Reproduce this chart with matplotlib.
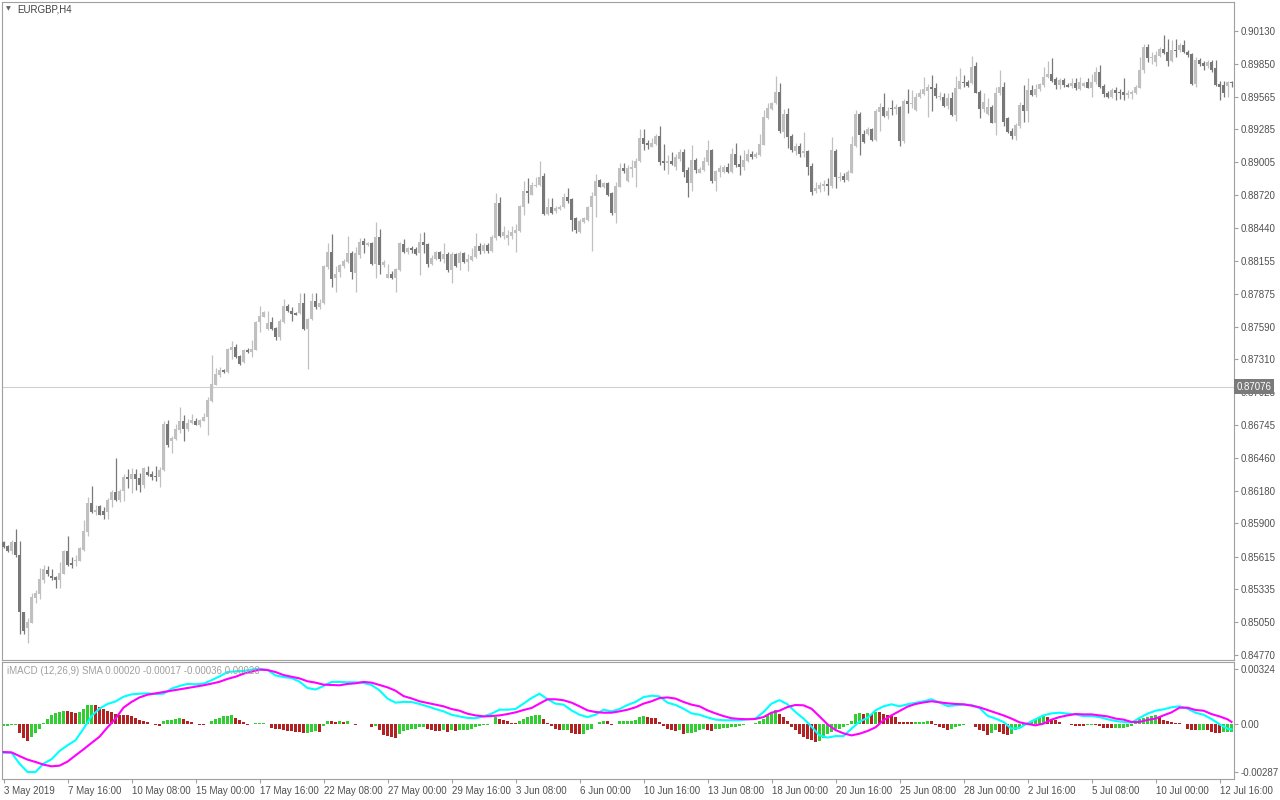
import numpy as np
import matplotlib
matplotlib.use("Agg")
import matplotlib.pyplot as plt

# ======================================================
# Data: EURGBP H4, 3 May 2019 - 12 Jul 2019
# prices in points (1e-5)
# ======================================================

open_pts = [
    85738, 85708, 85665, 85738, 85629, 85136, 85002, 85047, 85262, 85296,
    85414, 85500, 85448, 85440, 85414, 85468, 85663, 85562, 85580, 85580,
    85672, 85829, 86075, 86001, 86049, 86009, 85998, 86101, 86170, 86101,
    86181, 86299, 86281, 86324, 86293, 86232, 86344, 86324, 86305, 86299,
    86361, 86754, 86610, 86622, 86702, 86780, 86713, 86765, 86780, 86748,
    86782, 86811, 86954, 87091, 87177, 87218, 87200, 87392, 87415, 87338,
    87289, 87390, 87372, 87392, 87627, 87676, 87573, 87633, 87576, 87504,
    87633, 87768, 87725, 87710, 87705, 87791, 87573, 87653, 87810, 87761,
    87793, 88105, 88234, 88008, 88062, 88114, 88148, 88225, 88054, 88206,
    88326, 88291, 88311, 88128, 88358, 88120, 88011, 88042, 88011, 88077,
    88300, 88234, 88268, 88257, 88220, 88317, 88303, 88128, 88169, 88234,
    88171, 88214, 88077, 88214, 88134, 88225, 88148, 88163, 88186, 88283,
    88243, 88291, 88243, 88352, 88655, 88369, 88349, 88369, 88397, 88414,
    88620, 88758, 88724, 88798, 88804, 88884, 88558, 88620, 88583, 88598,
    88615, 88706, 88684, 88521, 88406, 88492, 88506, 88615, 88712, 88850,
    88787, 88827, 88736, 88569, 88792, 88950, 88844, 88947, 88953, 89016,
    89211, 89170, 89136, 89159, 89230, 89016, 88998, 89016, 88964, 89028,
    89093, 88936, 88827, 89022, 88912, 88936, 89007, 89108, 88844, 88921,
    88921, 88964, 88921, 89073, 88987, 88964, 89016, 89073, 89045, 89062,
    89153, 89380, 89457, 89509, 89606, 89265, 89417, 89228, 89101, 89142,
    89084, 89101, 88970, 88758, 88773, 88798, 88815, 88798, 89101, 88864,
    88884, 88850, 88912, 89142, 89417, 89245, 89245, 89285, 89193, 89437,
    89479, 89400, 89466, 89457, 89479, 89187, 89531, 89503, 89451, 89560,
    89589, 89617, 89651, 89637, 89560, 89560, 89485, 89552, 89408, 89634,
    89692, 89692, 89680, 89829, 89606, 89457, 89417, 89479, 89342, 89595,
    89651, 89380, 89273, 89228, 89314, 89494, 89445, 89623, 89580, 89629,
    89663, 89732, 89760, 89715, 89663, 89709, 89668, 89657, 89686, 89629,
    89657, 89689, 89643, 89689, 89780, 89660, 89595, 89565, 89623, 89608,
    89608, 89580, 89591, 89597, 89643, 89795, 89995, 89895, 89861, 89918,
    89975, 89947, 89872, 89967, 89967, 90009, 89952, 89930, 89672, 89881,
    89852, 89832, 89866, 89809, 89672, 89666, 89660, 89689,
]
high_pts = [
    85749, 85714, 85757, 85852, 85749, 85139, 85087, 85302, 85328, 85517,
    85545, 85534, 85511, 85448, 85566, 85672, 85792, 85614, 85626, 85700,
    85929, 86127, 86221, 86061, 86061, 86043, 86116, 86187, 86462, 86193,
    86322, 86365, 86373, 86365, 86330, 86387, 86393, 86353, 86393, 86387,
    86782, 86788, 86651, 86754, 86900, 86831, 86794, 86840, 86805, 86799,
    86851, 86986, 87347, 87235, 87241, 87224, 87404, 87467, 87439, 87344,
    87396, 87407, 87475, 87641, 87768, 87725, 87722, 87670, 87590, 87653,
    87825, 87785, 87756, 87719, 87877, 87877, 87664, 87877, 87879, 87828,
    88117, 88311, 88389, 88111, 88126, 88169, 88369, 88240, 88274, 88354,
    88354, 88320, 88320, 88489, 88432, 88163, 88128, 88071, 88091, 88320,
    88340, 88277, 88283, 88277, 88395, 88401, 88311, 88206, 88243, 88243,
    88306, 88234, 88234, 88225, 88243, 88234, 88214, 88263, 88392, 88306,
    88306, 88306, 88377, 88741, 88706, 88455, 88420, 88455, 88472, 88635,
    88841, 88867, 88835, 88873, 89013, 88912, 88693, 88693, 88626, 88635,
    88736, 88779, 88693, 88535, 88512, 88535, 88626, 88749, 88901, 88856,
    88835, 88835, 88749, 88835, 88998, 88998, 88979, 89022, 89039, 89285,
    89285, 89193, 89208, 89242, 89314, 89159, 89065, 89093, 89073, 89114,
    89114, 88959, 89150, 89036, 88964, 89045, 89193, 89114, 88936, 88979,
    88979, 88993, 89122, 89170, 89065, 89108, 89114, 89101, 89093, 89245,
    89451, 89514, 89522, 89743, 89686, 89457, 89471, 89245, 89165, 89165,
    89265, 89108, 88993, 88835, 88835, 88850, 88864, 89217, 89114, 88921,
    88907, 88936, 89228, 89451, 89437, 89279, 89308, 89294, 89457, 89509,
    89600, 89479, 89537, 89503, 89485, 89543, 89629, 89623, 89595, 89629,
    89737, 89674, 89752, 89680, 89608, 89595, 89595, 89608, 89743, 89809,
    89752, 89709, 89915, 89866, 89623, 89595, 89552, 89494, 89646, 89795,
    89694, 89394, 89294, 89337, 89522, 89666, 89723, 89666, 89674, 89680,
    89823, 89875, 89895, 89737, 89723, 89723, 89680, 89723, 89723, 89732,
    89694, 89723, 89758, 89823, 89838, 89672, 89614, 89637, 89651, 89632,
    89729, 89623, 89623, 89666, 89909, 90015, 90015, 89947, 89958, 89995,
    90095, 90061, 90052, 90061, 90024, 90052, 89967, 89938, 89909, 89895,
    89872, 89881, 89881, 89881, 89700, 89700, 89700, 89700,
]
low_pts = [
    85689, 85657, 85635, 85614, 84950, 84950, 84870, 85042, 85216, 85251,
    85388, 85451, 85414, 85348, 85348, 85463, 85537, 85517, 85534, 85574,
    85665, 85792, 85987, 85972, 85970, 85940, 85940, 86038, 86092, 86084,
    86095, 86207, 86164, 86187, 86170, 86207, 86307, 86273, 86267, 86215,
    86350, 86559, 86507, 86616, 86679, 86610, 86696, 86754, 86743, 86731,
    86777, 86662, 86943, 87086, 87160, 87189, 87195, 87315, 87321, 87263,
    87280, 87366, 87327, 87387, 87547, 87670, 87561, 87561, 87475, 87475,
    87624, 87719, 87641, 87688, 87699, 87561, 87224, 87647, 87742, 87742,
    87785, 88083, 87928, 87890, 88019, 88094, 88134, 87999, 87885, 88177,
    88220, 88285, 88120, 88011, 88042, 88105, 88008, 88002, 87885, 88071,
    88225, 88214, 88220, 88206, 88034, 88220, 88105, 88120, 88163, 88157,
    88134, 88062, 87968, 88105, 88077, 88140, 88071, 88157, 88180, 88214,
    88220, 88220, 88234, 88334, 88363, 88340, 88291, 88340, 88234, 88406,
    88549, 88652, 88718, 88792, 88798, 88552, 88549, 88558, 88564, 88592,
    88607, 88655, 88414, 88397, 88397, 88483, 88498, 88243, 88529, 88787,
    88779, 88715, 88549, 88483, 88787, 88907, 88835, 88873, 88792, 89007,
    89108, 89119, 89131, 89153, 88976, 88936, 88901, 88979, 88936, 89016,
    88878, 88701, 88758, 88907, 88907, 88930, 88979, 88821, 88758, 88878,
    88907, 88907, 88907, 88959, 88893, 88936, 89007, 89033, 89036, 89056,
    89148, 89371, 89451, 89503, 89256, 89208, 89122, 89093, 89065, 89050,
    89050, 88893, 88721, 88736, 88749, 88758, 88721, 88779, 88779, 88844,
    88835, 88844, 88907, 89131, 89065, 89170, 89236, 89188, 89188, 89273,
    89388, 89371, 89408, 89417, 89142, 89170, 89423, 89466, 89445, 89552,
    89580, 89394, 89445, 89552, 89537, 89479, 89457, 89400, 89359, 89629,
    89651, 89651, 89674, 89595, 89380, 89437, 89408, 89337, 89236, 89580,
    89314, 89251, 89199, 89193, 89294, 89351, 89351, 89571, 89565, 89617,
    89651, 89723, 89694, 89629, 89629, 89646, 89646, 89637, 89623, 89623,
    89646, 89637, 89565, 89672, 89643, 89565, 89557, 89552, 89537, 89546,
    89537, 89557, 89546, 89586, 89637, 89766, 89866, 89844, 89832, 89909,
    89930, 89832, 89861, 89909, 89952, 89938, 89909, 89666, 89651, 89832,
    89795, 89810, 89780, 89660, 89537, 89565, 89565, 89651,
]
close_pts = [
    85700, 85665, 85738, 85626, 85136, 84978, 85056, 85268, 85305, 85422,
    85508, 85463, 85434, 85414, 85474, 85665, 85545, 85545, 85586, 85691,
    85835, 86075, 86001, 86015, 85975, 85972, 86101, 86170, 86101, 86181,
    86299, 86281, 86324, 86281, 86232, 86376, 86318, 86299, 86299, 86361,
    86754, 86576, 86634, 86713, 86780, 86713, 86765, 86788, 86748, 86788,
    86817, 86960, 87097, 87183, 87220, 87200, 87398, 87415, 87332, 87272,
    87390, 87375, 87398, 87633, 87682, 87716, 87624, 87567, 87504, 87641,
    87768, 87727, 87701, 87693, 87791, 87573, 87653, 87810, 87761, 87793,
    88111, 88234, 88002, 88042, 88120, 88157, 88225, 88062, 88225, 88317,
    88294, 88311, 88128, 88363, 88120, 88148, 88042, 88008, 88083, 88306,
    88234, 88263, 88249, 88214, 88317, 88291, 88128, 88177, 88234, 88171,
    88214, 88077, 88214, 88111, 88225, 88145, 88169, 88197, 88283, 88243,
    88291, 88243, 88363, 88655, 88369, 88403, 88377, 88406, 88420, 88626,
    88755, 88741, 88809, 88809, 88878, 88558, 88620, 88569, 88612, 88620,
    88706, 88672, 88506, 88420, 88500, 88521, 88615, 88712, 88841, 88792,
    88827, 88721, 88569, 88798, 88950, 88930, 88953, 88964, 89016, 89211,
    89159, 89153, 89170, 89230, 89004, 88998, 89016, 88987, 89045, 89093,
    88921, 88827, 89022, 88936, 88944, 89016, 89108, 88844, 88927, 88955,
    88964, 88921, 89073, 88979, 88964, 89022, 89073, 89045, 89073, 89159,
    89388, 89466, 89514, 89606, 89273, 89417, 89222, 89108, 89142, 89073,
    89101, 88959, 88749, 88779, 88807, 88815, 88798, 89108, 88873, 88878,
    88850, 88921, 89159, 89417, 89236, 89179, 89285, 89193, 89445, 89479,
    89400, 89445, 89457, 89479, 89187, 89531, 89503, 89514, 89565, 89595,
    89629, 89651, 89634, 89571, 89565, 89485, 89552, 89408, 89637, 89700,
    89686, 89657, 89823, 89600, 89457, 89522, 89479, 89342, 89600, 89651,
    89351, 89265, 89228, 89322, 89494, 89445, 89623, 89580, 89629, 89672,
    89737, 89760, 89703, 89668, 89709, 89663, 89651, 89686, 89637, 89692,
    89686, 89643, 89694, 89780, 89651, 89586, 89565, 89623, 89595, 89595,
    89580, 89600, 89608, 89651, 89795, 89995, 89895, 89909, 89924, 89975,
    89938, 89872, 89967, 89961, 90009, 89947, 89924, 89672, 89881, 89844,
    89832, 89866, 89795, 89666, 89651, 89595, 89694, 89683,
]

# MACD (12,26,9) lines read every 2nd bar, in points (1e-5)
macd_bars = list(range(0, 307, 2)) + [307]
macd_main_pts = [
    -172, -172, -237, -287, -287, -237, -211, -162, -128, -98,
    -29, 46, 90, 118, 133, 161, 175, 179, 181, 177,
    179, 209, 225, 237, 235, 239, 259, 282, 308, 312,
    314, 322, 328, 320, 288, 278, 272, 251, 213, 204,
    225, 249, 249, 247, 247, 243, 231, 199, 150, 126,
    130, 130, 118, 104, 88, 74, 54, 44, 35, 33,
    44, 60, 84, 84, 88, 120, 153, 179, 146, 120,
    114, 80, 54, 40, 54, 84, 74, 88, 112, 130,
    159, 167, 163, 126, 112, 90, 62, 54, 38, 25,
    21, 21, 21, 27, 31, 70, 120, 141, 116, 70,
    31, -17, -69, -82, -73, -73, -29, 13, 35, 80,
    104, 116, 104, 116, 125, 134, 146, 126, 106, 110,
    114, 112, 94, 48, 31, 11, -29, -25, 3, 27,
    50, 62, 66, 60, 56, 46, 46, 40, 27, 17,
    11, 7, 35, 60, 78, 86, 98, 104, 90, 66,
    54, 29, -3, -29,
    -33,
]
macd_signal_pts = [
    -168, -170, -192, -213, -227, -243, -253, -249, -225, -188,
    -152, -114, -77, -21, 31, 96, 130, 157, 173, 181,
    189, 197, 205, 213, 221, 229, 239, 250, 267, 280,
    298, 310, 322, 320, 308, 290, 280, 270, 253, 245,
    233, 231, 229, 237, 241, 249, 245, 231, 217, 197,
    165, 151, 134, 124, 114, 104, 88, 78, 60, 50,
    44, 46, 50, 58, 68, 82, 94, 120, 146, 146,
    140, 126, 104, 80, 70, 66, 66, 74, 84, 98,
    120, 134, 153, 157, 150, 130, 114, 104, 80, 62,
    46, 33, 29, 27, 29, 40, 66, 78, 100, 112,
    110, 90, 44, -3, -37, -57, -69, -59, -43, -21,
    21, 50, 76, 102, 118, 127, 134, 128, 122, 118,
    116, 108, 98, 82, 66, 50, 31, 9, -1, -9,
    1, 25, 40, 50, 58, 56, 56, 50, 44, 31,
    25, 11, 11, 23, 31, 50, 68, 96, 96, 82,
    78, 58, 44, 27,
    11,
]
# histogram, one value per bar, points (1e-5)
macd_hist_pts = [
    -14, -12, -10, -8, -53, -85, -100, -80, -53, -33,
    2, 27, 54, 66, 70, 76, 74, 70, 66, 70,
    90, 110, 114, 113, 102, 90, 78, 70, 60, 54,
    53, 50, 44, 34, 21, 15, 11, 1, -8, -13,
    15, 21, 22, 27, 34, 27, 19, 11, 1, -5,
    -9, 1, 15, 27, 34, 45, 46, 50, 34, 21,
    11, -5, 1, 3, 6, 7, 0, -25, -29, -30,
    -39, -40, -45, -46, -49, -53, -52, -49, -45, -46,
    -12, 15, 14, 11, 15, 11, 15, 1, -5, 0,
    1, -1, -18, -16, -39, -65, -72, -78, -85, -59,
    -45, -39, -29, -28, -19, -18, -29, -39, -40, -45,
    -39, -49, -39, -45, -39, -38, -37, -29, -19, -13,
    -9, -5, 0, 40, 30, 21, 15, 7, 3, 15,
    30, 40, 46, 54, 55, 27, 5, -13, -29, -39,
    -38, -37, -53, -59, -60, -58, -39, -29, -3, 11,
    15, 14, -5, 1, 15, 16, 17, 18, 21, 40,
    46, 41, 34, 33, 11, -15, -29, -39, -45, -39,
    -59, -53, -52, -51, -39, -29, -39, -40, -29, -28,
    -27, -26, -19, -18, -15, -9, -3, 0, 3, 15,
    30, 54, 70, 80, 60, 40, 15, -19, -39, -59,
    -79, -89, -98, -108, -104, -85, -59, -49, -29, -28,
    -19, -9, 15, 60, 66, 60, 66, 60, 70, 69,
    60, 50, 46, 40, 11, 10, 9, 8, 10, 11,
    12, 17, 16, -9, -19, -25, -39, -29, -21, -15,
    -9, -2, 1, -19, -39, -45, -65, -53, -39, -49,
    -59, -69, -59, -39, -19, -9, 1, 15, 27, 35,
    50, 41, 31, 21, 11, 1, -1, -9, -13, -14,
    -15, -9, -8, -10, -13, -25, -26, -27, -24, -23,
    -22, -19, -13, 11, 27, 35, 41, 46, 50, 41,
    21, 15, 11, 7, 3, -1, -29, -35, -36, -35,
    -34, -39, -49, -53, -55, -50, -48, -47,
]

date_labels = [
    "3 May 2019", "7 May 16:00", "10 May 08:00", "15 May 00:00", "17 May 16:00",
    "22 May 08:00", "27 May 00:00", "29 May 16:00", "3 Jun 08:00", "6 Jun 00:00",
    "10 Jun 16:00", "13 Jun 08:00", "18 Jun 00:00", "20 Jun 16:00", "25 Jun 08:00",
    "28 Jun 00:00", "2 Jul 16:00", "5 Jul 08:00", "10 Jul 00:00", "12 Jul 16:00",
]
price_ticks = [
    0.90130, 0.89850, 0.89565, 0.89285, 0.89005, 0.88720, 0.88440, 0.88155,
    0.87875, 0.87590, 0.87310, 0.87025, 0.86745, 0.86460, 0.86180, 0.85900,
    0.85615, 0.85335, 0.85050, 0.84770,
]
macd_ticks = [0.00324, 0.0, -0.00287]
macd_tick_labels = ["0.00324", "0.00", "-0.00287"]
line_price = 0.87076

# ======================================================
# Prepare
# ======================================================

o = np.array(open_pts) / 1e5
h = np.array(high_pts) / 1e5
l = np.array(low_pts) / 1e5
c = np.array(close_pts) / 1e5
x = np.arange(len(c))

bull_col = "#c0c0c0"
bear_col = "#787878"
cols = np.where(c >= o, bull_col, bear_col)

hist = np.array(macd_hist_pts) / 1e5
hist_prev = np.concatenate([[hist[0] - 1], hist[:-1]])
hist_cols = np.where(hist >= hist_prev, "#32cd32", "#b22222")

axis_col = "#a0a0a0"
text_col = "#505050"
font_size = 7

# ======================================================
# Figure
# ======================================================

plt.rcParams["font.family"] = ["Liberation Sans", "DejaVu Sans"]
fig = plt.figure(figsize=(12.8, 8), dpi=100)
fig.patch.set_facecolor("white")

ax = fig.add_axes([2 / 1280, 140 / 800, 1232 / 1280, 658 / 800])
ax2 = fig.add_axes([2 / 1280, 21 / 800, 1232 / 1280, 117 / 800])

# ---- price panel ----
ax.axhline(line_price, color="#d0d0d0", lw=0.8, zorder=1)
ax.vlines(x, l, h, colors=cols, lw=0.9, zorder=2)
body_bottom = np.minimum(o, c)
body_h = np.maximum(np.abs(c - o), 0.00009)
ax.bar(x, body_h, bottom=body_bottom, width=0.72, color=cols, linewidth=0, zorder=3)

ax.set_xlim(-0.375, 307.625)
ax.set_ylim(0.84727, 0.90379)
ax.set_xticks([])
ax.yaxis.tick_right()
ax.set_yticks(price_ticks)
ax.set_yticklabels([f"{v:.5f}" for v in price_ticks])
ax.tick_params(axis="y", length=3, width=0.8, color=axis_col, labelsize=font_size,
               labelcolor=text_col, pad=2)
for s in ax.spines.values():
    s.set_color(axis_col)
    s.set_linewidth(0.8)

ax.text(1.002, line_price, f"{line_price:.5f}", transform=ax.get_yaxis_transform(),
        ha="left", va="center", fontsize=font_size, color="white", zorder=10, clip_on=False,
        bbox=dict(boxstyle="square,pad=0.3", facecolor="#7a7a7a", edgecolor="none"))

fig.text(8 / 1280, 1 - 9 / 800, "\u25bc", fontsize=4.5, color="#606060",
         ha="center", va="center", family="DejaVu Sans")
fig.text(17 / 1280, 1 - 9.5 / 800, "EURGBP,H4", fontsize=font_size, color="#404040",
         ha="left", va="center")

# ---- MACD panel ----
ax2.bar(x, hist, width=0.72, color=hist_cols, linewidth=0, zorder=2)
ax2.plot(macd_bars, np.array(macd_main_pts) / 1e5, color="#00ffff", lw=1.5, zorder=3)
ax2.plot(macd_bars, np.array(macd_signal_pts) / 1e5, color="#ff00ff", lw=1.5, zorder=4)

ax2.set_xlim(-0.375, 307.625)
ax2.set_ylim(-0.003284, 0.003677)
ax2.yaxis.tick_right()
ax2.set_yticks(macd_ticks)
ax2.set_yticklabels(macd_tick_labels)
ax2.tick_params(axis="y", length=3, width=0.8, color=axis_col, labelsize=font_size,
                labelcolor=text_col, pad=2)
ax2.set_xticks(np.arange(len(date_labels)) * 16)
ax2.set_xticklabels(date_labels, ha="left")
ax2.tick_params(axis="x", length=3, width=0.8, color=axis_col, labelsize=font_size,
                labelcolor=text_col, pad=2)
for s in ax2.spines.values():
    s.set_color(axis_col)
    s.set_linewidth(0.8)

fig.text(7 / 1280, 1 - 670.5 / 800, "iMACD (12,26,9) SMA 0.00020 -0.00017 -0.00036 0.00020",
         fontsize=font_size, color="#a0a0a0", ha="left", va="center", zorder=10)

fig.savefig("out.png", dpi=100)
